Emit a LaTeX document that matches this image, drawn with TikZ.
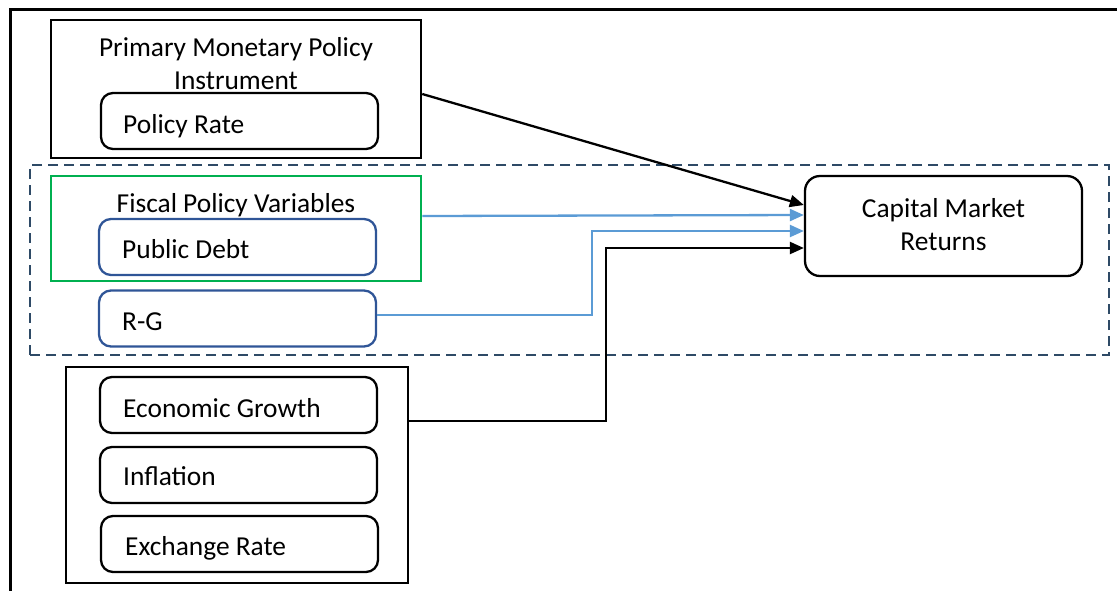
\documentclass[tikz,border=0pt]{standalone}
\usepackage{fontspec}
\setmainfont{Carlito}
\usetikzlibrary{arrows.meta}
\definecolor{debtblue}{HTML}{2F5597}
\definecolor{linkblue}{HTML}{5B9BD5}
\definecolor{fiscgreen}{HTML}{00B050}
\definecolor{groupslate}{HTML}{2E4A66}
\begin{document}
\begin{tikzpicture}[x=1pt,y=-1pt,
  font=\fontsize{27.4}{33}\selectfont,
  panel/.style={draw=black,line width=2.5pt,inner sep=0pt},
  item/.style={draw=black,line width=2.3pt,rounded corners=12pt,inner sep=0pt,
    minimum width=277pt,minimum height=56pt},
  blueitem/.style={item,draw=debtblue},
  label/.style={inner sep=0pt,anchor=base west},
  title/.style={inner sep=0pt,anchor=base,align=center},
  blackarrow/.style={draw=black,line width=2.3pt,-{Triangle[length=14pt,width=12pt]}},
  bluearrow/.style={draw=linkblue,line width=2.3pt,-{Triangle[length=14pt,width=12pt]}}]
\useasboundingbox (0,0) rectangle (1117,590);

% outer frame
\draw[line width=3pt] (10,592) -- (10,9) -- (1119,9);

% dashed group around the fiscal block and the outcome
\node[draw=groupslate,line width=2.3pt,dash pattern=on 10pt off 6pt,inner sep=0pt,
  minimum width=1079pt,minimum height=190pt] (grp) at (569.5,260) {};

% monetary policy block
\node[panel,minimum width=370pt,minimum height=138pt] (prim) at (236,89) {};
\node[title] (primt) at (236,89) {Primary Monetary Policy\\Instrument};
\node[item] (rate) at (239.5,121) {};
\node[label] at (123,133) {Policy Rate};

% fiscal policy block
\node[panel,draw=fiscgreen,minimum width=370pt,minimum height=105pt] (fisc) at (236,228.5) {};
\node[title] at (236,212) {Fiscal Policy Variables};
\node[blueitem] (debt) at (237.5,247) {};
\node[label] at (122,258) {Public Debt};
\node[blueitem] (rg) at (237.5,318.5) {};
\node[label] at (122,330) {R-G};

% macroeconomic controls
\node[panel,minimum width=342pt,minimum height=216pt] (macro) at (237,475) {};
\node[item] (growth) at (238.5,405) {};
\node[label] at (123,417) {Economic Growth};
\node[item] (infl) at (238.5,475) {};
\node[label] at (123,485) {Inflation};
\node[item] (fx) at (239.5,544) {};
\node[label] at (125,555) {Exchange Rate};

% outcome
\node[item,rounded corners=15pt,minimum height=100pt] (cmr) at (943.5,226) {};
\node[title] at (943.5,250) {Capital Market\\Returns};

% links
\draw[blackarrow] ([yshift=-5pt]prim.east) -- ([yshift=21pt]cmr.west);
\draw[bluearrow] ([yshift=12.5pt]fisc.east) -- (cmr.west |- 0,215);
\draw[bluearrow] (rg.east |- 0,315) -| (592,231) -- (cmr.west |- 0,231);
\draw[blackarrow] (macro.east |- 0,421) -| (606,248) -- (cmr.west |- 0,248);
\end{tikzpicture}
\end{document}
